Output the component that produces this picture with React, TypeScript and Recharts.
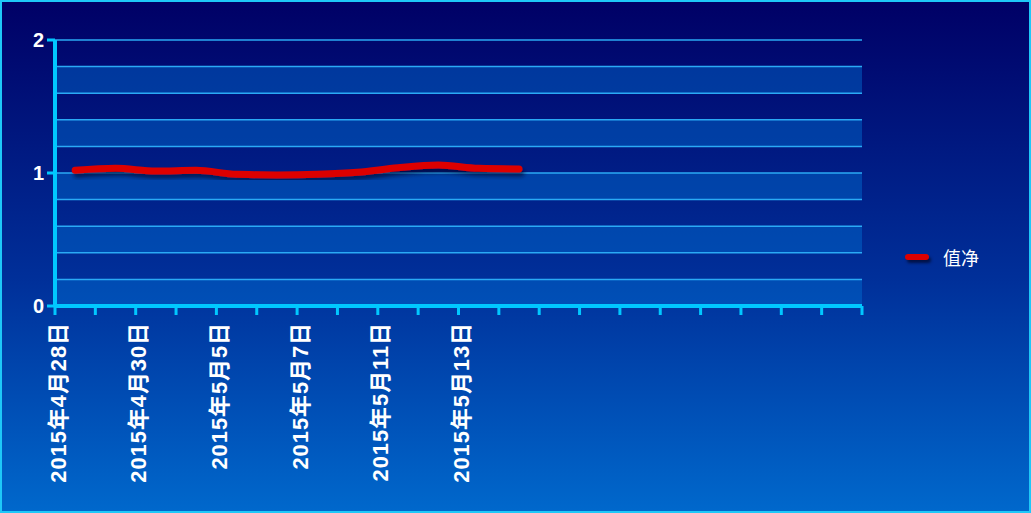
import { LineChart, Line, XAxis, YAxis, CartesianGrid, Legend } from 'recharts';

const dates = [
  '2015年4月28日', '2015年4月29日', '2015年4月30日', '2015年5月4日',
  '2015年5月5日', '2015年5月6日', '2015年5月7日', '2015年5月8日',
  '2015年5月11日', '2015年5月12日', '2015年5月13日', '2015年5月14日',
];
const netValues = [1.02, 1.035, 1.015, 1.02, 0.99, 0.985, 0.99, 1.005, 1.04, 1.06, 1.035, 1.03];
const slotCount = 20;
const yTicks = [0, 0.2, 0.4, 0.6, 0.8, 1, 1.2, 1.4, 1.6, 1.8, 2];

const chartData = Array.from({ length: slotCount }, (_, i) => ({
  date: i < dates.length ? dates[i] : ' '.repeat(i + 1),
  value: i < netValues.length ? netValues[i] : null,
}));

const AXIS = '#00c8ff';
const FONT = "Arial, 'Liberation Sans', 'Noto Sans CJK SC', sans-serif";

// tick marks sit on slot boundaries; labels every other slot, just right of the boundary
const DateTick = ({ x, y, payload, index, width }: any) => {
  const bw = width ? Number(width) / slotCount : 40.35;
  const left = x - bw / 2;
  const showLabel = index % 2 === 0 && payload.value && payload.value.trim();
  const lx = left + 3;
  const ly = y + 16;
  return (
    <g>
      <line x1={left} x2={left} y1={y} y2={y + 9} stroke={AXIS} strokeWidth={3} />
      {index === slotCount - 1 && (
        <line x1={left + bw} x2={left + bw} y1={y} y2={y + 9} stroke={AXIS} strokeWidth={3} />
      )}
      {showLabel && (
        <text
          x={lx}
          y={ly}
          transform={`rotate(-90, ${lx}, ${ly})`}
          textAnchor="end"
          dominantBaseline="central"
          fill="#ffffff"
          fontSize={22}
          letterSpacing={0.9}
          fontWeight="bold"
          fontFamily={FONT}
        >
          {payload.value}
        </text>
      )}
    </g>
  );
};

const ValueTick = ({ x, y, payload }: any) => {
  if (!Number.isInteger(payload.value)) return null;
  return (
    <g>
      <line x1={x - 6} x2={x + 2} y1={y} y2={y} stroke={AXIS} strokeWidth={3} />
      <text
        x={x - 9}
        y={y}
        textAnchor="end"
        dominantBaseline="central"
        fill="#ffffff"
        fontSize={20}
        fontWeight="bold"
        fontFamily={FONT}
      >
        {payload.value}
      </text>
    </g>
  );
};

const LegendBox = () => (
  <div style={{ display: 'flex', alignItems: 'center', fontFamily: FONT }}>
    <span
      style={{
        display: 'inline-block',
        width: 24,
        height: 6,
        borderRadius: 3,
        background: '#dd0000',
        boxShadow: '2px 3px 3px rgba(0,0,20,0.6)',
        marginRight: 14,
      }}
    />
    <span style={{ color: '#ffffff', fontSize: 18 }}>值净</span>
  </div>
);

export default function App() {
  return (
    <div
      style={{
        position: 'absolute',
        left: 0,
        top: 0,
        width: 1031,
        height: 513,
        boxSizing: 'border-box',
        border: '2px solid #1ec8f8',
        background: 'linear-gradient(to bottom, #000066 0%, #00309a 55%, #0068cc 100%)',
      }}
    >
      <svg width={0} height={0} style={{ position: 'absolute' }}>
        <defs>
          <filter id="lineShadow" x="-5%" y="-50%" width="110%" height="200%">
            <feDropShadow dx={2} dy={4} stdDeviation={2} floodColor="#000020" floodOpacity={0.6} />
          </filter>
        </defs>
      </svg>
      <LineChart
        width={1027}
        height={509}
        data={chartData}
        margin={{ top: 38, right: 93, bottom: 0, left: 0 }}
      >
        <CartesianGrid
          vertical={false}
          stroke="#2aaaf5"
          strokeWidth={1.5}
          horizontalFill={['rgba(0,0,0,0)', 'rgba(0,110,210,0.45)']}
          fillOpacity={1}
        />
        <XAxis
          dataKey="date"
          scale="band"
          interval={0}
          axisLine={{ stroke: AXIS, strokeWidth: 4 }}
          tickLine={false}
          tickSize={0}
          tickMargin={0}
          tick={<DateTick />}
          height={205}
        />
        <YAxis
          domain={[0, 2]}
          ticks={yTicks}
          interval={0}
          width={53}
          axisLine={{ stroke: AXIS, strokeWidth: 4 }}
          tickLine={false}
          tickSize={0}
          tick={<ValueTick />}
        />
        <Legend
          layout="vertical"
          align="right"
          verticalAlign="middle"
          wrapperStyle={{ right: 50, top: 242 }}
          content={<LegendBox />}
        />
        <Line
          dataKey="value"
          type="monotone"
          stroke="#dd0000"
          strokeWidth={7}
          strokeLinecap="round"
          dot={false}
          activeDot={false}
          filter="url(#lineShadow)"
          isAnimationActive={false}
          connectNulls={false}
        />
      </LineChart>
    </div>
  );
}
